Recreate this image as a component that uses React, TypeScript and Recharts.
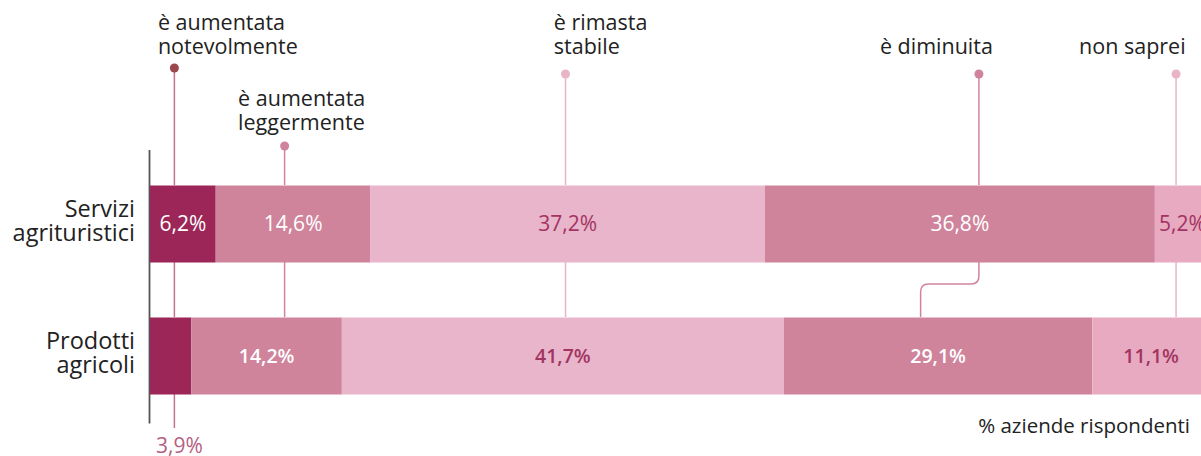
import React from "react";
import * as Recharts from "recharts";
import { BarChart, Bar, XAxis, YAxis, LabelList } from "recharts";

// categories and answer series (% aziende rispondenti)
const categories = ["Servizi agrituristici", "Prodotti agricoli"];
const seriesNames = [
  "è aumentata notevolmente",
  "è aumentata leggermente",
  "è rimasta stabile",
  "è diminuita",
  "non saprei",
];
const notevolmente = [6.2, 3.9];
const leggermente = [14.6, 14.2];
const stabile = [37.2, 41.7];
const diminuita = [36.8, 29.1];
const nonSaprei = [5.2, 11.1];

const keys = ["notevolmente", "leggermente", "stabile", "diminuita", "nonSaprei"];
const data = categories.map((name, i) => ({
  name,
  notevolmente: notevolmente[i],
  leggermente: leggermente[i],
  stabile: stabile[i],
  diminuita: diminuita[i],
  nonSaprei: nonSaprei[i],
}));

const COLORS = ["#9b2657", "#cf849c", "#e9b5ca", "#cf849c", "#e7aac1"];
const TEXT_COLORS = ["#ffffff", "#ffffff", "#a23462", "#ffffff", "#a23462"];
const BAR_SIZE = 77;

// leader lines for the legend labels (x given on the % scale)
const ANNOT = [
  { at: 2.3, dotY: 68, dx: -16.5, anchor: "start", base: [30, 54], line: "#c5708f", dot: "#9c474d" },
  { at: 12.7, dotY: 146, dx: -46.5, anchor: "start", base: [106, 130], line: "#d0849c", dot: "#d0849c" },
  { at: 39.2, dotY: 74, dx: -11.7, anchor: "start", base: [30, 54], line: "#e9b4c8", dot: "#e9b4c8" },
  { at: 78.2, dotY: 74, dx: 14, anchor: "end", base: [54], line: "#d0849c", dot: "#d0849c", jog: 72.7 },
  { at: 96.8, dotY: 74, dx: 9.5, anchor: "end", base: [54], line: "#e9b4c8", dot: "#e9b4c8" },
];
const annotLines = [
  ["è aumentata", "notevolmente"],
  ["è aumentata", "leggermente"],
  ["è rimasta", "stabile"],
  ["è diminuita"],
  ["non saprei"],
];

const fmt = (v: number) => v.toFixed(1).replace(".", ",") + "%";

const usePlot: any = (Recharts as any).usePlotArea || (Recharts as any).useOffset;

function Annotations() {
  const area = usePlot ? usePlot() : null;
  if (!area) return null;
  const left = area.x ?? area.left;
  const top = area.y ?? area.top;
  const xOf = (v: number) => left + (v / 100) * area.width;
  const band = area.height / categories.length;
  const barTop = (i: number) => top + band * i + (band - BAR_SIZE) / 2;
  const barBot = (i: number) => barTop(i) + BAR_SIZE;

  return (
    <g>
      <line x1={left - 0.5} x2={left - 0.5} y1={top - 7.5} y2={top + area.height + 2} stroke="#555" strokeWidth={1.8} />
      {ANNOT.map((a, k) => {
        const x = xOf(a.at);
        return (
          <g key={k}>
            <line x1={x} x2={x} y1={a.dotY} y2={barTop(0)} stroke={a.line} strokeWidth={1.5} />
            {a.jog !== undefined ? (
              <path
                d={`M${x} ${barBot(0)} V${barBot(0) + 14} Q${x} ${barBot(0) + 22} ${x - 8} ${barBot(0) + 22} H${xOf(a.jog) + 8} Q${xOf(a.jog)} ${barBot(0) + 22} ${xOf(a.jog)} ${barBot(0) + 30} V${barTop(1)}`}
                fill="none"
                stroke={a.line}
                strokeWidth={1.5}
              />
            ) : (
              <line x1={x} x2={x} y1={barBot(0)} y2={barTop(1)} stroke={a.line} strokeWidth={1.5} />
            )}
            {k === 0 && (
              <>
                <line x1={x} x2={x} y1={barBot(1)} y2={barBot(1) + 34} stroke={a.line} strokeWidth={1.5} />
                <text x={x + 5} y={barBot(1) + 58.5} textAnchor="middle" fontSize={21} fill="#b5607f">
                  {fmt(notevolmente[1])}
                </text>
              </>
            )}
            <circle cx={x} cy={a.dotY} r={4.5} fill={a.dot} />
            <text x={x + a.dx} textAnchor={a.anchor as any} fontSize={21.5} fill="#222">
              {annotLines[k].map((t, j) => (
                <tspan key={j} x={x + a.dx} y={a.base[j]}>
                  {t}
                </tspan>
              ))}
            </text>
          </g>
        );
      })}
      <text x={left + area.width - 20} y={433} textAnchor="end" fontSize={20.5} fill="#222">
        % aziende rispondenti
      </text>
    </g>
  );
}

const CategoryTick = (props: any) => {
  const { x, y, payload } = props;
  const parts = String(payload.value).split(" ");
  return (
    <text x={x} y={y} textAnchor="end" fontSize={23.5} fill="#222">
      {parts.map((p, i) => (
        <tspan key={i} x={x} y={y - 7 + i * 24}>
          {p}
        </tspan>
      ))}
    </text>
  );
};

const makeLabel = (s: number) => (props: any) => {
  const { x, y, width, height, value, index } = props;
  if (s === 0 && index === 1) return null; // shown under the bar
  return (
    <text
      x={Number(x) + Number(width) / 2}
      y={Number(y) + Number(height) / 2 + 7}
      textAnchor="middle"
      fontSize={index === 0 ? 21 : 19.5}
      fontWeight={index === 0 ? 400 : 600}
      fill={TEXT_COLORS[s]}
    >
      {fmt(Number(value))}
    </text>
  );
};

export default function App() {
  return (
    <div
      style={{
        position: "absolute",
        left: 0,
        top: 0,
        width: 1201,
        height: 456,
        overflow: "hidden",
        fontFamily: '"Open Sans", sans-serif',
      }}
    >
      <BarChart
        width={1220}
        height={456}
        data={data}
        layout="vertical"
        margin={{ top: 157.5, right: 10, bottom: 34.5, left: 0 }}
        barSize={BAR_SIZE}
      >
        <XAxis type="number" domain={[0, 100]} hide />
        <YAxis
          type="category"
          dataKey="name"
          width={150}
          axisLine={false}
          tickLine={false}
          tickSize={0}
          tickMargin={15}
          tick={<CategoryTick />}
        />
        {keys.map((k, s) => (
          <Bar key={k} dataKey={k} name={seriesNames[s]} stackId="a" fill={COLORS[s]} isAnimationActive={false}>
            <LabelList dataKey={k} content={makeLabel(s)} />
          </Bar>
        ))}
        <Annotations />
      </BarChart>
    </div>
  );
}
